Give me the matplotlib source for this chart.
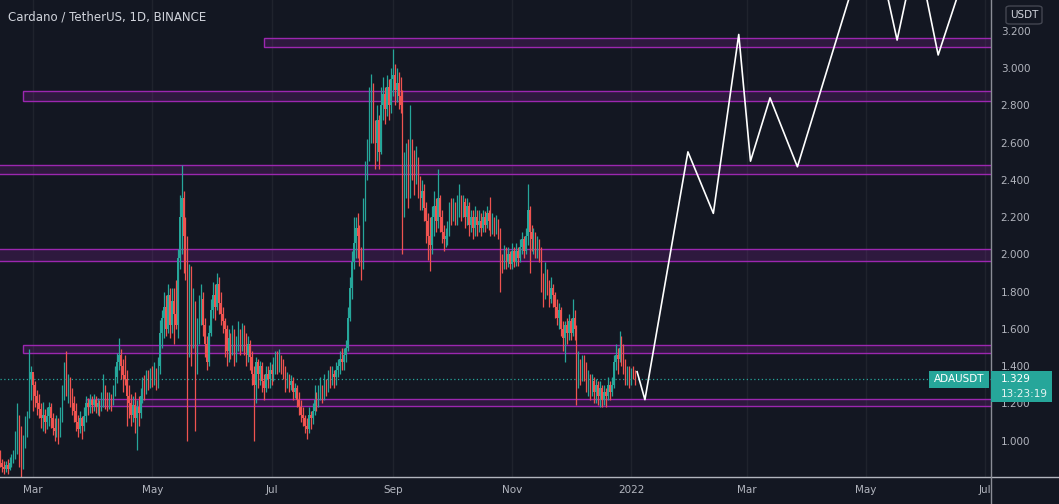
import numpy as np
import pandas as pd
import matplotlib
matplotlib.use('Agg')
from matplotlib import pyplot as plt
import matplotlib.dates as mdates
from matplotlib.patches import Rectangle, FancyBboxPatch
from matplotlib.lines import Line2D
from matplotlib.transforms import Bbox, TransformedBbox

# ---- data: ADA/USDT daily candles, 2021-02-12 .. 2022-01-03 ----
start_day = '2021-02-12'
first_open = 0.94
close = [
    0.88, 0.86, 0.85, 0.87, 0.85, 0.88, 0.90,
    0.92, 0.95, 1.12, 1.05, 0.93, 0.98, 1.10,
    1.14, 1.33, 1.37, 1.30, 1.24, 1.20, 1.17,
    1.12, 1.14, 1.10, 1.13, 1.18, 1.12, 1.07,
    1.05, 1.10, 1.04, 1.12, 1.25, 1.36, 1.28,
    1.32, 1.24, 1.20, 1.16, 1.10, 1.06, 1.12,
    1.08, 1.13, 1.20, 1.18, 1.22, 1.19, 1.22,
    1.18, 1.20, 1.17, 1.22, 1.28, 1.22, 1.20,
    1.23, 1.21, 1.26, 1.34, 1.42, 1.46, 1.40,
    1.35, 1.33, 1.24, 1.20, 1.14, 1.19, 1.12,
    1.18, 1.15, 1.24, 1.30, 1.27, 1.34, 1.31,
    1.36, 1.33, 1.37, 1.31, 1.40, 1.58, 1.66,
    1.72, 1.60, 1.78, 1.62, 1.75, 1.68, 1.62,
    1.98, 2.20, 2.30, 2.10, 1.98, 1.78, 1.86,
    1.60, 1.72, 1.45, 1.60, 1.72, 1.76, 1.62,
    1.52, 1.42, 1.58, 1.70, 1.78, 1.72, 1.84,
    1.74, 1.68, 1.64, 1.60, 1.48, 1.55, 1.50,
    1.58, 1.46, 1.52, 1.56, 1.52, 1.60, 1.54,
    1.46, 1.52, 1.45, 1.36, 1.30, 1.42, 1.36,
    1.40, 1.32, 1.28, 1.36, 1.33, 1.38, 1.36,
    1.40, 1.43, 1.40, 1.44, 1.41, 1.38, 1.30,
    1.34, 1.30, 1.32, 1.26, 1.28, 1.22, 1.18,
    1.14, 1.12, 1.08, 1.06, 1.14, 1.12, 1.16,
    1.22, 1.20, 1.26, 1.28, 1.24, 1.30, 1.28,
    1.34, 1.32, 1.36, 1.34, 1.38, 1.40, 1.44,
    1.42, 1.46, 1.50, 1.66, 1.82, 1.96, 2.06,
    2.14, 2.10, 2.00, 1.94, 2.20, 2.45, 2.55,
    2.75, 2.88, 2.65, 2.60, 2.72, 2.55, 2.80,
    2.86, 2.78, 2.90, 2.80, 2.94, 2.96, 2.88,
    2.92, 2.85, 2.80, 2.40, 2.45, 2.55, 2.36,
    2.60, 2.48, 2.40, 2.50, 2.38, 2.30, 2.34,
    2.25, 2.18, 2.10, 2.05, 2.20, 2.26, 2.18,
    2.30, 2.20, 2.12, 2.08, 2.10, 2.14, 2.24,
    2.22, 2.26, 2.20, 2.25, 2.30, 2.24, 2.28,
    2.20, 2.26, 2.16, 2.20, 2.14, 2.20, 2.16,
    2.18, 2.14, 2.20, 2.16, 2.22, 2.18, 2.14,
    2.18, 2.13, 2.17, 2.12, 1.96, 1.94, 2.00,
    1.96, 2.00, 1.95, 2.02, 1.96, 2.02, 1.98,
    2.04, 2.08, 2.02, 2.10, 2.24, 2.12, 2.08,
    2.10, 2.04, 2.06, 2.00, 1.86, 1.80, 1.90,
    1.84, 1.76, 1.82, 1.78, 1.72, 1.66, 1.70,
    1.60, 1.55, 1.62, 1.58, 1.64, 1.58, 1.66,
    1.60, 1.38, 1.40, 1.36, 1.44, 1.38, 1.30,
    1.34, 1.28, 1.32, 1.26, 1.30, 1.24, 1.28,
    1.22, 1.26, 1.24, 1.30, 1.26, 1.30, 1.42,
    1.46, 1.44, 1.50, 1.46, 1.40, 1.34, 1.38,
    1.32, 1.37, 1.36, 1.329,
]
high = [
    0.95, 0.90, 0.89, 0.89, 0.90, 0.91, 0.93,
    0.95, 1.05, 1.20, 1.14, 1.08, 1.03, 1.13,
    1.16, 1.49, 1.40, 1.36, 1.32, 1.27, 1.25,
    1.20, 1.21, 1.17, 1.18, 1.21, 1.20, 1.15,
    1.12, 1.14, 1.12, 1.18, 1.30, 1.42, 1.48,
    1.36, 1.34, 1.28, 1.24, 1.20, 1.14, 1.16,
    1.13, 1.18, 1.24, 1.23, 1.25, 1.24, 1.25,
    1.24, 1.23, 1.22, 1.26, 1.36, 1.30, 1.26,
    1.26, 1.25, 1.30, 1.40, 1.47, 1.55, 1.49,
    1.44, 1.46, 1.38, 1.30, 1.25, 1.24, 1.26,
    1.22, 1.24, 1.28, 1.34, 1.35, 1.38, 1.38,
    1.39, 1.40, 1.42, 1.39, 1.45, 1.65, 1.70,
    1.80, 1.78, 1.84, 1.82, 1.82, 1.82, 1.86,
    2.03, 2.32, 2.48, 2.34, 2.20, 2.10, 1.95,
    1.94, 1.82, 1.75, 1.66, 1.78, 1.84, 1.80,
    1.66, 1.56, 1.62, 1.76, 1.85, 1.84, 1.90,
    1.88, 1.80, 1.72, 1.66, 1.62, 1.60, 1.58,
    1.62, 1.60, 1.56, 1.64, 1.60, 1.63, 1.62,
    1.58, 1.56, 1.54, 1.48, 1.40, 1.45, 1.44,
    1.43, 1.42, 1.36, 1.40, 1.40, 1.42, 1.41,
    1.45, 1.48, 1.48, 1.49, 1.46, 1.44, 1.40,
    1.37, 1.36, 1.35, 1.34, 1.31, 1.30, 1.26,
    1.22, 1.18, 1.14, 1.12, 1.18, 1.16, 1.20,
    1.30, 1.26, 1.30, 1.34, 1.30, 1.36, 1.33,
    1.38, 1.40, 1.40, 1.38, 1.42, 1.44, 1.48,
    1.50, 1.50, 1.54, 1.72, 1.88, 2.02, 2.20,
    2.20, 2.22, 2.16, 2.04, 2.30, 2.50, 2.62,
    2.90, 2.97, 2.92, 2.72, 2.80, 2.75, 2.90,
    2.95, 2.90, 2.96, 2.94, 3.00, 3.10, 3.02,
    3.00, 2.98, 2.95, 2.88, 2.55, 2.60, 2.62,
    2.80, 2.62, 2.56, 2.58, 2.52, 2.42, 2.40,
    2.38, 2.28, 2.22, 2.20, 2.26, 2.34, 2.30,
    2.46, 2.32, 2.24, 2.16, 2.14, 2.18, 2.28,
    2.30, 2.30, 2.28, 2.32, 2.38, 2.32, 2.32,
    2.30, 2.30, 2.28, 2.24, 2.24, 2.26, 2.24,
    2.24, 2.22, 2.24, 2.23, 2.26, 2.24, 2.31,
    2.22, 2.20, 2.21, 2.19, 2.14, 2.00, 2.05,
    2.04, 2.04, 2.02, 2.06, 2.04, 2.06, 2.04,
    2.08, 2.12, 2.10, 2.14, 2.38, 2.26, 2.16,
    2.14, 2.12, 2.10, 2.08, 2.04, 1.90, 1.96,
    1.92, 1.86, 1.88, 1.84, 1.80, 1.76, 1.74,
    1.72, 1.64, 1.64, 1.66, 1.68, 1.66, 1.76,
    1.70, 1.62, 1.48, 1.44, 1.46, 1.46, 1.42,
    1.38, 1.36, 1.36, 1.34, 1.33, 1.32, 1.32,
    1.30, 1.30, 1.28, 1.34, 1.32, 1.34, 1.46,
    1.52, 1.50, 1.59, 1.56, 1.52, 1.44, 1.40,
    1.40, 1.39, 1.40, 1.38,
]
low = [
    0.86, 0.83, 0.82, 0.83, 0.82, 0.84, 0.86,
    0.88, 0.90, 0.93, 0.86, 0.80, 0.85, 0.96,
    1.02, 1.12, 1.22, 1.16, 1.18, 1.14, 1.12,
    1.07, 1.05, 1.04, 1.06, 1.08, 1.07, 1.03,
    1.00, 1.02, 0.98, 1.02, 1.10, 1.22, 1.24,
    1.20, 1.18, 1.14, 1.10, 1.05, 1.02, 1.04,
    1.01, 1.05, 1.10, 1.14, 1.15, 1.15, 1.16,
    1.15, 1.14, 1.13, 1.16, 1.18, 1.17, 1.16,
    1.17, 1.16, 1.19, 1.24, 1.31, 1.38, 1.33,
    1.26, 1.30, 1.08, 1.12, 1.08, 1.10, 1.04,
    0.95, 1.08, 1.12, 1.20, 1.22, 1.25, 1.27,
    1.28, 1.29, 1.30, 1.27, 1.28, 1.36, 1.50,
    1.55, 1.56, 1.58, 1.55, 1.58, 1.52, 1.60,
    1.55, 1.92, 2.00, 1.90, 1.86, 1.00, 1.45,
    1.40, 1.50, 1.05, 1.36, 1.52, 1.62, 1.56,
    1.45, 1.38, 1.40, 1.56, 1.66, 1.65, 1.70,
    1.68, 1.62, 1.58, 1.45, 1.40, 1.42, 1.44,
    1.46, 1.40, 1.42, 1.48, 1.46, 1.48, 1.46,
    1.40, 1.42, 1.38, 1.30, 1.00, 1.20, 1.28,
    1.30, 1.26, 1.22, 1.26, 1.28, 1.28, 1.30,
    1.32, 1.36, 1.36, 1.37, 1.36, 1.33, 1.26,
    1.28, 1.26, 1.27, 1.22, 1.23, 1.18, 1.14,
    1.10, 1.08, 1.04, 1.01, 1.04, 1.06, 1.09,
    1.14, 1.16, 1.18, 1.22, 1.20, 1.22, 1.24,
    1.26, 1.28, 1.30, 1.28, 1.30, 1.34, 1.36,
    1.38, 1.38, 1.42, 1.48, 1.64, 1.76, 1.92,
    1.98, 1.98, 1.94, 1.86, 1.92, 2.18, 2.40,
    2.50, 2.60, 2.60, 2.46, 2.50, 2.46, 2.54,
    2.72, 2.70, 2.74, 2.72, 2.76, 2.85, 2.80,
    2.82, 2.78, 2.76, 2.00, 2.20, 2.30, 2.25,
    2.30, 2.40, 2.32, 2.38, 2.30, 2.24, 2.24,
    2.18, 2.06, 1.97, 1.91, 2.00, 2.10, 2.12,
    2.14, 2.12, 2.06, 2.02, 2.04, 2.05, 2.10,
    2.16, 2.18, 2.16, 2.16, 2.20, 2.18, 2.20,
    2.14, 2.16, 2.10, 2.12, 2.08, 2.10, 2.10,
    2.12, 2.10, 2.12, 2.12, 2.14, 2.13, 2.10,
    2.11, 2.10, 2.11, 2.08, 1.80, 1.90, 1.92,
    1.92, 1.93, 1.92, 1.92, 1.93, 1.94, 1.94,
    1.96, 2.00, 1.98, 2.00, 2.05, 1.90, 2.02,
    2.00, 1.98, 1.98, 1.96, 1.80, 1.72, 1.76,
    1.78, 1.72, 1.74, 1.72, 1.66, 1.62, 1.60,
    1.56, 1.48, 1.42, 1.52, 1.54, 1.54, 1.56,
    1.54, 1.19, 1.28, 1.30, 1.32, 1.32, 1.26,
    1.24, 1.22, 1.24, 1.20, 1.20, 1.19, 1.18,
    1.18, 1.19, 1.18, 1.22, 1.22, 1.24, 1.28,
    1.38, 1.36, 1.42, 1.40, 1.36, 1.30, 1.30,
    1.28, 1.30, 1.33, 1.30,
]

# support / resistance zones (purple boxes)
zone_start = ['2021-06-27', '2021-02-24', '2021-01-01', '2021-01-01', '2021-02-24', '2021-03-28']
zone_top = [3.161, 2.876, 2.479, 2.029, 1.514, 1.224]
zone_bottom = [3.113, 2.823, 2.431, 1.966, 1.471, 1.184]

# projected path (white line)
proj_dates = ['2022-01-04', '2022-01-08', '2022-01-30', '2022-02-12', '2022-02-25', '2022-03-03',
              '2022-03-13', '2022-03-27', '2022-05-04', '2022-05-17', '2022-05-27', '2022-06-07',
              '2022-06-23']
proj_price = [1.37, 1.22, 2.55, 2.22, 3.18, 2.50, 2.84, 2.47, 3.77, 3.15, 3.64, 3.07, 3.58]

month_ticks = ['2021-03-01', '2021-05-01', '2021-07-01', '2021-09-01', '2021-11-01',
               '2022-01-01', '2022-03-01', '2022-05-01', '2022-07-01']
month_labels = ['Mar', 'May', 'Jul', 'Sep', 'Nov', '2022', 'Mar', 'May', 'Jul']
price_ticks = [1.0, 1.2, 1.4, 1.6, 1.8, 2.0, 2.2, 2.4, 2.6, 2.8, 3.0, 3.2]

BG = '#131722'
UP = '#26a69a'
DOWN = '#ef5350'
TXT = '#b2b5be'

W, H = 1059, 504
fig = plt.figure(figsize=(W / 100, H / 100), dpi=100, facecolor=BG)
ax = fig.add_axes([0, 27 / H, 991 / W, 477 / H])
ax.set_facecolor(BG)

# candles
close = np.array(close)
high = np.array(high)
low = np.array(low)
dates = pd.date_range(start_day, periods=len(close), freq='D')
x = mdates.date2num(dates)
opn = np.r_[first_open, close[:-1]]
cols = np.where(close >= opn, UP, DOWN)
ax.vlines(x, low, high, colors=cols, lw=0.9, zorder=3)
ax.bar(x, np.abs(close - opn), bottom=np.minimum(opn, close), width=0.6,
       color=cols, linewidth=0, zorder=3)

x_left = mdates.date2num(pd.Timestamp('2021-03-01')) - 16.88
x_right = x_left + 991 / 1.955

# zones
for s, t, b in zip(zone_start, zone_top, zone_bottom):
    x0 = mdates.date2num(pd.Timestamp(s))
    ax.add_patch(Rectangle((x0, b), x_right + 50 - x0, t - b,
                           facecolor=(0.61, 0.15, 0.69, 0.2),
                           edgecolor='#9c27b0', lw=1.0, zorder=2))

# projection
ax.plot(mdates.date2num(pd.to_datetime(proj_dates)), proj_price,
        color='white', lw=1.2, zorder=4)

# last price dotted line
ax.axhline(close[-1], color=UP, lw=0.9, ls=(0, (1, 2)), zorder=2.5)

ax.set_xlim(x_left, x_right)
ax.set_ylim(0.805, 3.365)

ax.set_xticks(mdates.date2num(pd.to_datetime(month_ticks)))
ax.set_xticklabels(month_labels)
ax.set_yticks(price_ticks)
ax.set_yticklabels(['%.3f' % p for p in price_ticks])
ax.yaxis.tick_right()
ax.tick_params(axis='x', length=0, pad=6, colors=TXT, labelsize=7.5)
ax.tick_params(axis='y', length=0, pad=7, colors=TXT, labelsize=7.5)
ax.grid(axis='x', color='#1f232d', lw=1, zorder=0)
for sp in ax.spines.values():
    sp.set_visible(False)

# last month label is cut by the price scale border
clip = TransformedBbox(Bbox([[0, 0], [991 / W, 1]]), fig.transFigure)
lab = ax.get_xticklabels()[-1]
lab.set_clip_box(clip)
lab.set_clip_on(True)

# scale borders
fig.add_artist(Line2D([0, 1], [27 / H, 27 / H], color=TXT, lw=1, transform=fig.transFigure))
fig.add_artist(Line2D([991 / W, 991 / W], [0, 1], color='#8a8d96', lw=1, transform=fig.transFigure))

# title
fig.text(8 / W, 1 - 17 / H, 'Cardano / TetherUS, 1D, BINANCE', color='#d1d4dc',
         fontsize=8.5, va='center', ha='left')

# USDT box
fig.add_artist(FancyBboxPatch((1006 / W, 1 - 24 / H), 36 / W, 18 / H,
                              boxstyle='round,pad=0,rounding_size=0.004',
                              transform=fig.transFigure, facecolor=BG,
                              edgecolor='#434651', lw=1, zorder=5))
fig.text(1024 / W, 1 - 15 / H, 'USDT', color='#d1d4dc', fontsize=7.5,
         ha='center', va='center', zorder=6)

# last price labels
fig.add_artist(Rectangle((991 / W, 1 - 402 / H), 61 / W, 31 / H, transform=fig.transFigure,
                         facecolor=UP, edgecolor='none', zorder=5))
fig.text(1001 / W, 1 - 379 / H, '%.3f' % close[-1], color='white', fontsize=7.5,
         ha='left', va='center', zorder=6)
fig.text(1001 / W, 1 - 394 / H, '13:23:19', color='#e6f4f2', fontsize=7.5,
         ha='left', va='center', zorder=6)
fig.add_artist(Rectangle((929 / W, 1 - 388 / H), 60 / W, 17 / H, transform=fig.transFigure,
                         facecolor=UP, edgecolor='none', zorder=5))
fig.text(959 / W, 1 - 379.5 / H, 'ADAUSDT', color='white', fontsize=7.5,
         ha='center', va='center', zorder=6)

fig.savefig('out.png', dpi=100, facecolor=BG)
